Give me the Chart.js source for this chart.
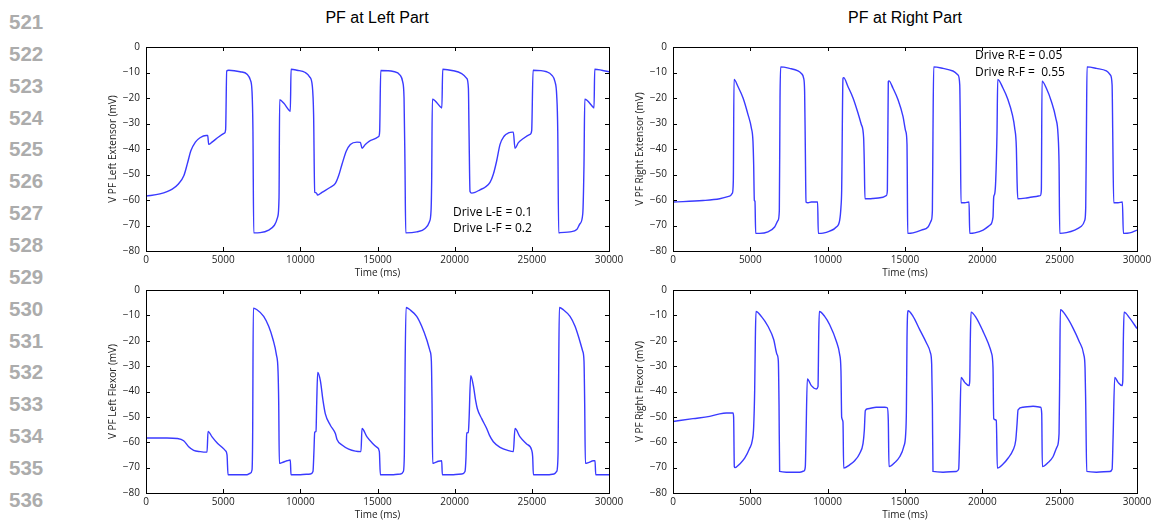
<!DOCTYPE html>
<html>
<head>
<meta charset="utf-8">
<script src="https://cdn.jsdelivr.net/npm/chart.js@4.4.0/dist/chart.umd.min.js"></script>
<style>
  html, body { margin: 0; padding: 0; background: #fff; overflow: hidden; }
  body { width: 1164px; height: 523px; position: relative; font-family: "Liberation Sans", Arial, sans-serif; }
  canvas { position: absolute; }
  .title { position: absolute; font-size: 16px; color: #000; transform: translate(-50%, -50%); white-space: nowrap; }
  .note { position: absolute; font-family: "Open Sans", sans-serif; font-size: 12px; color: #000; white-space: pre; }
  .lineno { position: absolute; left: 9px; font-weight: bold; font-size: 20.5px; color: #acacac; transform: translateY(-50%); }
</style>
</head>
<body>
<div class="title" style="left:377px; top:18px;">PF at Left Part</div>
<div class="title" style="left:905px; top:18px;">PF at Right Part</div>

<canvas id="leftExt" width="531" height="246" style="left:96px; top:35px;"></canvas>
<canvas id="rightExt" width="532" height="246" style="left:623px; top:35px;"></canvas>
<canvas id="leftFlx" width="531" height="245" style="left:96px; top:278px;"></canvas>
<canvas id="rightFlx" width="532" height="245" style="left:623px; top:278px;"></canvas>

<div class="note" style="left:453px; top:204px; line-height:15.6px;">Drive L-E = 0.1
Drive L-F = 0.2</div>
<div class="note" style="left:975px; top:47px; line-height:16.7px;">Drive R-E = 0.05
Drive R-F =  0.55</div>

<script>
// tick labels
const xTickValues = [0, 5000, 10000, 15000, 20000, 25000, 30000];
const yTickValues = [0, -10, -20, -30, -40, -50, -60, -70, -80];

// manuscript line numbers down the left margin
const lineNumbers = [521, 522, 523, 524, 525, 526, 527, 528, 529, 530, 531, 532, 533, 534, 535, 536];

// [time ms, voltage mV]
const leftExtensor = [
  [0,-58.5],[900,-57.6],[1700,-55.7],[2100,-53.7],[2450,-50.5],[2700,-45.3],[2900,-40.8],[3200,-37.3],[3500,-35.6],[3900,-34.7],
  [4000,-34.7],[4060,-38.2],[4280,-37.3],[4700,-35.3],[5080,-33.8],[5160,-32.4],[5230,-9.4],[5360,-9.1],[6100,-9.7],[6550,-10.7],
  [6760,-12.9],[6870,-17.5],[6930,-33],[6980,-72.9],[7400,-72.8],[7950,-71.8],[8320,-69.9],[8530,-66.7],[8620,-58.9],[8660,-20.7],
  [8920,-22],[9300,-25],[9350,-25.2],[9400,-8.7],[9790,-9.1],[10320,-10],[10600,-11.7],[10780,-15.5],[10860,-26.5],[10930,-57],
  [11040,-57.2],[11120,-58.1],[11400,-57],[11950,-55],[12270,-53.5],[12480,-50.5],[12700,-46],[12980,-40.8],[13240,-38.2],[13670,-37.3],
  [13890,-37.4],[14000,-39.7],[14210,-38.2],[14650,-36.4],[15080,-35.1],[15140,-33],[15210,-9.2],[16030,-9.6],[16460,-11],[16630,-13.6],
  [16720,-20],[16780,-46],[16830,-72.9],[17540,-72.5],[18080,-71.2],[18360,-68.6],[18470,-64.1],[18510,-52.4],[18555,-20.5],[19120,-23.7],
  [19170,-23.9],[19225,-8.7],[19915,-9.3],[20455,-10.4],[20780,-12.3],[20890,-16.2],[20930,-33],[20995,-56.7],[21100,-57.3],[21320,-57],
  [21640,-56],[21970,-55],[22290,-53.1],[22510,-49.8],[22720,-44.7],[22940,-38.2],[23200,-35],[23480,-33.7],[23760,-33.4],[23800,-33.4],
  [23910,-39.7],[24130,-37.5],[24450,-35.9],[24880,-34.3],[24990,-32.8],[25080,-9.1],[25960,-9.7],[26290,-11],[26500,-13.6],[26610,-18.8],
  [26680,-33],[26740,-72.9],[26830,-72.8],[27480,-72.5],[27910,-71.6],[28120,-69.3],[28300,-65.4],[28380,-46],[28430,-20.5],[28990,-23.7],
  [29030,-23.9],[29075,-8.7],[29530,-9.1],[30000,-9.7]
];

const rightExtensor = [
  [0,-60.8],[1940,-60.2],[3020,-59.5],[3660,-58.5],[3840,-57.3],[3900,-52.4],[3945,-12.7],[4200,-15.5],[4530,-20],[4850,-26.5],
  [5065,-31.7],[5170,-36.9],[5215,-46],[5260,-60.2],[5300,-60.5],[5345,-73.1],[5600,-73.1],[6140,-72.5],[6570,-70.6],[6790,-68],
  [6875,-64.1],[6920,-20],[6960,-7.8],[7540,-8.4],[8080,-9.4],[8300,-10.4],[8450,-12.3],[8510,-17.5],[8555,-39.5],[8600,-60.8],
  [8730,-61.1],[8940,-60.8],[9350,-60.8],[9395,-73.1],[9700,-73],[10130,-72.2],[10560,-70.6],[10775,-68],[10860,-62.8],[10905,-56.3],
  [10990,-12.3],[11035,-12],[11310,-15.5],[11640,-20],[11960,-25.9],[12175,-30.4],[12325,-35.6],[12370,-46],[12410,-59.5],[12710,-59.5],
  [12930,-59.4],[13580,-58.9],[13790,-58.3],[13860,-56.3],[13920,-13.6],[13965,-13.3],[14225,-16.2],[14550,-20.7],[14870,-27.2],[15045,-33],
  [15130,-38.2],[15150,-52.4],[15175,-73.1],[15520,-72.9],[16060,-71.8],[16490,-70.6],[16700,-68],[16770,-64.1],[16810,-33],[16855,-7.8],
  [17460,-8.4],[18100,-9.4],[18430,-11],[18540,-14.9],[18580,-33],[18620,-61.1],[18860,-61.1],[19140,-60.8],[19185,-73.1],[19510,-72.9],
  [20050,-71.8],[20480,-69.9],[20690,-66.7],[20735,-58.9],[20800,-57.6],[20865,-52.4],[20950,-33],[20995,-12.7],[21340,-16.2],[21660,-20.7],
  [21940,-26.5],[22090,-31.7],[22200,-39.5],[22245,-52.4],[22290,-59.5],[22850,-59.2],[23490,-58.6],[23750,-58.3],[23815,-56.3],[23860,-13.4],
  [24140,-16.2],[24465,-21.4],[24745,-27.8],[24895,-34.3],[24960,-46],[25005,-73.1],[25435,-72.8],[25975,-71.8],[26405,-70.3],[26620,-68],
  [26685,-62.8],[26730,-33],[26770,-7.8],[27375,-8.4],[28020,-9.4],[28280,-11],[28390,-14.9],[28430,-33],[28495,-61.1],[28775,-61.1],
  [29055,-60.8],[29120,-73.1],[29530,-72.9],[30000,-71.8]
];

const leftFlexor = [
  [0,-58.3],[1360,-58.3],[2010,-58.5],[2440,-59.4],[2765,-61.8],[3090,-63.2],[3520,-63.7],[3910,-63.9],[3955,-63.9],[4020,-55.7],
  [4280,-57.9],[4600,-60.2],[4925,-62],[5140,-63.3],[5250,-65],[5315,-72.8],[5680,-72.8],[6545,-72.8],[6760,-72.2],[6870,-70.9],
  [6910,-57.9],[6955,-7.2],[7190,-7.8],[7625,-10.4],[7950,-14.3],[8230,-19.5],[8445,-25.4],[8555,-31.9],[8600,-44.9],[8640,-68.3],
  [8815,-68],[9135,-67.3],[9350,-67],[9395,-72.8],[10000,-72.8],[10650,-72.5],[10820,-71.5],[10885,-63.1],[10930,-56],[11015,-55.7],
  [11060,-44.9],[11125,-32.5],[11300,-35.8],[11470,-43.6],[11620,-48.8],[11945,-53.3],[12270,-56.6],[12375,-58.9],[12700,-61.1],[13135,-62.7],
  [13565,-63.5],[13930,-63.7],[13995,-54.6],[14320,-57.9],[14645,-60.2],[14970,-62],[15120,-63.7],[15185,-72.8],[16030,-72.8],[16500,-72.5],
  [16675,-71.5],[16740,-64.4],[16785,-31.9],[16850,-6.9],[17105,-7.8],[17540,-10.4],[17865,-14.3],[18185,-19.5],[18405,-24.1],[18490,-28],
  [18535,-44.9],[18575,-68.3],[18725,-68],[18945,-67.5],[19160,-67.3],[19200,-72.8],[19915,-72.8],[20455,-72.5],[20670,-71.5],[20735,-65.7],
  [20780,-56.3],[20885,-56.2],[20930,-51.4],[21040,-33.8],[21210,-37.7],[21360,-43.6],[21470,-46.8],[21750,-50.7],[22075,-54.6],[22250,-57.2],
  [22505,-59.8],[22940,-62],[23480,-63.3],[23800,-63.7],[23910,-54.6],[24235,-57.9],[24665,-60.7],[24990,-63.1],[25055,-65.7],[25100,-72.8],
  [25965,-72.8],[26440,-72.5],[26610,-71.5],[26700,-64.4],[26740,-31.9],[26785,-6.9],[27045,-7.8],[27475,-10.4],[27800,-14.3],[28080,-19.5],
  [28295,-24.1],[28380,-28],[28425,-44.9],[28470,-68.3],[28665,-68],[28985,-67.3],[29095,-67.3],[29140,-72.8],[30000,-72.8]
];

const rightFlexor = [
  [0,-51.8],[1290,-50.7],[2370,-49.8],[3020,-48.8],[3450,-48.5],[3880,-48.5],[3920,-50.1],[3965,-69.6],[4010,-70],[4310,-68.6],
  [4635,-66.3],[4955,-62.4],[5130,-59.2],[5215,-54],[5280,-39.7],[5325,-18.9],[5365,-8.5],[5710,-10.4],[6140,-14.3],[6510,-19.5],
  [6725,-25.4],[6810,-28],[6855,-44.9],[6895,-71.5],[7330,-71.8],[8190,-71.8],[8470,-71.3],[8555,-69.6],[8600,-57.9],[8685,-35.1],
  [8945,-37.7],[9265,-39],[9375,-38.1],[9420,-18.9],[9460,-8.5],[9805,-10.4],[10130,-13.7],[10560,-20.2],[10775,-25.4],[10860,-31.9],
  [10905,-50.1],[10990,-52],[11035,-70.2],[11420,-68.9],[11745,-67.3],[12070,-64.4],[12285,-60.5],[12370,-55.3],[12435,-47.5],[12605,-46.8],
  [13145,-46.2],[13685,-46.2],[13855,-46.4],[13920,-51.4],[13965,-69.6],[14335,-68],[14655,-65.7],[14915,-61.8],[15045,-56.6],[15090,-47.5],
  [15130,-18.9],[15195,-8.2],[15520,-10.4],[15950,-15.6],[16380,-20.8],[16640,-24.7],[16725,-29.3],[16770,-44.9],[16810,-71.5],[17460,-71.8],
  [18320,-71.5],[18470,-70.6],[18535,-57.9],[18625,-34.5],[18860,-36.4],[19140,-37.7],[19185,-35.8],[19225,-18.9],[19270,-8.7],[19615,-11.1],
  [20045,-16.3],[20370,-20.8],[20585,-24.7],[20690,-30.6],[20735,-50.7],[20905,-51.4],[20970,-70.2],[21340,-68.6],[21660,-66.3],[21985,-63.1],
  [22160,-59.2],[22245,-52.7],[22310,-47.2],[22630,-46.2],[23280,-45.8],[23775,-46.2],[23840,-48.8],[23880,-69.6],[24250,-68],[24570,-65.7],
  [24830,-61.8],[24960,-56.6],[25005,-31.9],[25045,-7.8],[25435,-10.4],[25865,-15],[26255,-20.2],[26555,-25.4],[26640,-30.6],[26685,-44.9],
  [26750,-71.5],[27375,-71.8],[28235,-71.5],[28390,-70.6],[28455,-57.9],[28560,-34.5],[28775,-36.4],[29035,-37.7],[29080,-35.8],[29120,-18.9],
  [29165,-8.7],[29530,-11.1],[30000,-15.2]
];

lineNumbers.forEach((n, i) => {
  const d = document.createElement('div');
  d.className = 'lineno';
  d.style.top = (22 + i * 31.85) + 'px';
  d.textContent = n;
  document.body.appendChild(d);
});

// box round the plot area plus inward ticks on all four sides (matplotlib look)
const framePlugin = {
  id: 'frame',
  afterDraw(chart) {
    const { ctx, chartArea: a, scales } = chart;
    ctx.save();
    ctx.strokeStyle = '#000';
    ctx.lineWidth = 1;
    ctx.beginPath();
    xTickValues.forEach(v => {
      const px = Math.round(scales.x.getPixelForValue(v)) + 0.5;
      ctx.moveTo(px, a.bottom); ctx.lineTo(px, a.bottom - 4);
      ctx.moveTo(px, a.top); ctx.lineTo(px, a.top + 4);
    });
    yTickValues.forEach(v => {
      const py = Math.round(scales.y.getPixelForValue(v)) + 0.5;
      ctx.moveTo(a.left, py); ctx.lineTo(a.left + 4, py);
      ctx.moveTo(a.right, py); ctx.lineTo(a.right - 4, py);
    });
    ctx.stroke();
    ctx.strokeRect(Math.round(a.left) + 0.5, Math.round(a.top) + 0.5,
                   Math.round(a.right - a.left), Math.round(a.bottom - a.top));
    ctx.restore();
  }
};

const tickFont = { family: '"Open Sans", sans-serif', size: 10 };
const labelFont = { family: '"Open Sans", sans-serif', size: 10 };

function minusLabel(v) {
  return v < 0 ? '\u2212' + Math.abs(v) : String(v);
}

function makeChart(id, series, yLabel) {
  new Chart(document.getElementById(id), {
    type: 'line',
    data: {
      datasets: [{
        data: series.map(p => ({ x: p[0], y: p[1] })),
        borderColor: '#3a3aff',
        borderWidth: 1.4,
        pointRadius: 0,
        cubicInterpolationMode: 'monotone',
        fill: false
      }]
    },
    options: {
      responsive: false,
      animation: false,
      devicePixelRatio: 1,
      layout: { padding: { top: 10, right: 18, left: 0, bottom: 0 } },
      plugins: { legend: { display: false }, tooltip: { enabled: false } },
      scales: {
        x: {
          type: 'linear',
          min: 0,
          max: 30000,
          afterBuildTicks: s => { s.ticks = xTickValues.map(v => ({ value: v })); },
          afterFit: s => { s.height = 30; },
          grid: { display: false, drawTicks: false },
          border: { display: false },
          ticks: { font: tickFont, color: '#222', padding: 3, maxRotation: 0, autoSkip: false,
                   callback: v => String(v) },
          title: { display: true, text: 'Time (ms)', font: labelFont, color: '#222',
                   padding: { top: 0, bottom: 1.5 } }
        },
        y: {
          min: -80,
          max: 0,
          afterBuildTicks: s => { s.ticks = yTickValues.map(v => ({ value: v })); },
          afterFit: s => { s.width = 50; },
          grid: { display: false, drawTicks: false },
          border: { display: false },
          ticks: { font: tickFont, color: '#222', padding: 6, callback: v => minusLabel(v) },
          title: { display: true, text: yLabel, font: labelFont, color: '#222',
                   padding: { top: 11, bottom: 0 } }
        }
      }
    },
    plugins: [framePlugin]
  });
}

makeChart('leftExt', leftExtensor, 'V PF Left Extensor (mV)');
makeChart('rightExt', rightExtensor, 'V PF Right Extensor (mV)');
makeChart('leftFlx', leftFlexor, 'V PF Left Flexor (mV)');
makeChart('rightFlx', rightFlexor, 'V PF Right Flexor (mV)');
</script>
</body>
</html>
